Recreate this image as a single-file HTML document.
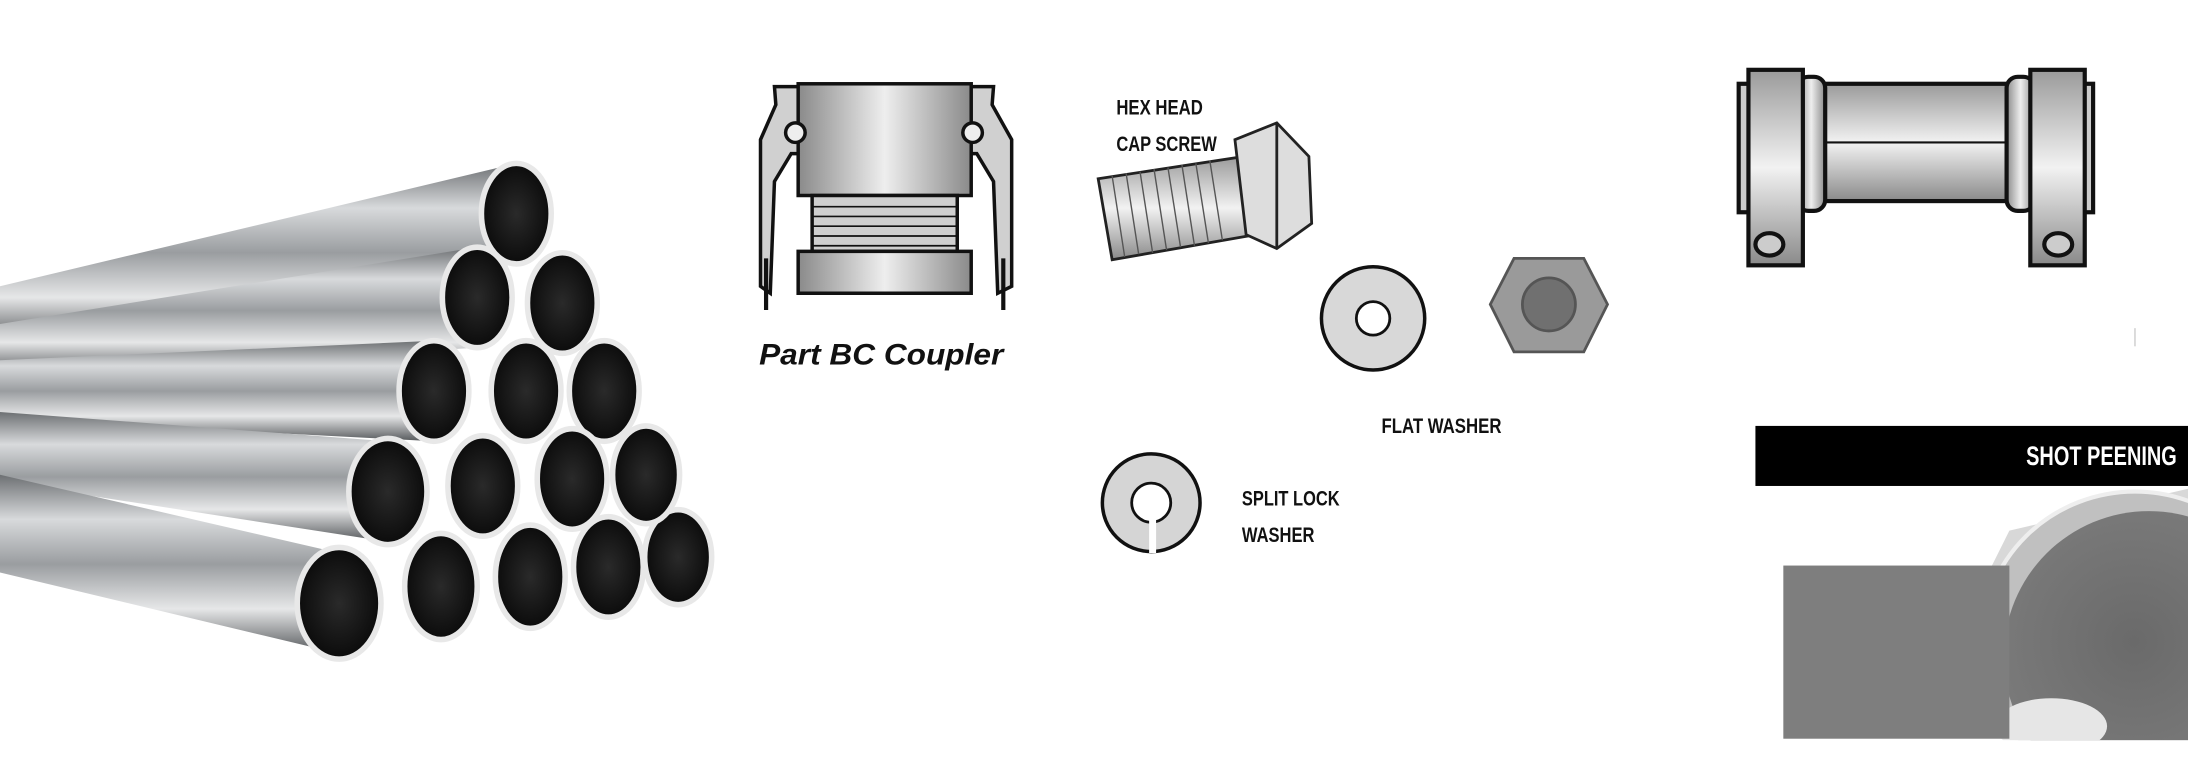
<!DOCTYPE html>
<html><head><meta charset="utf-8"><style>
html,body{margin:0;padding:0;background:#fff;}
svg{display:block;}
.c{font-family:"Liberation Sans",sans-serif;font-weight:bold;}
</style></head><body>
<svg width="2188" height="782" viewBox="0 0 1568 560" preserveAspectRatio="none" xmlns="http://www.w3.org/2000/svg">
<defs>
<linearGradient id="pg" x1="0" y1="0" x2="0" y2="1">
<stop offset="0" stop-color="#6d7073"/><stop offset="0.25" stop-color="#d8dadc"/><stop offset="0.5" stop-color="#9a9da0"/><stop offset="0.75" stop-color="#e6e7e8"/><stop offset="1" stop-color="#55585b"/>
</linearGradient>
<radialGradient id="hole" cx="0.5" cy="0.5" r="0.6"><stop offset="0" stop-color="#2a2a2a"/><stop offset="1" stop-color="#050505"/></radialGradient>
<linearGradient id="mg" x1="0" y1="0" x2="0" y2="1"><stop offset="0" stop-color="#9a9a9a"/><stop offset="0.5" stop-color="#f2f2f2"/><stop offset="1" stop-color="#8a8a8a"/></linearGradient>
<linearGradient id="mh" x1="0" y1="0" x2="1" y2="0"><stop offset="0" stop-color="#8a8a8a"/><stop offset="0.5" stop-color="#eeeeee"/><stop offset="1" stop-color="#8a8a8a"/></linearGradient>
<radialGradient id="pp" cx="0.45" cy="0.45" r="0.7"><stop offset="0" stop-color="#6a6a6a"/><stop offset="0.7" stop-color="#7a7a7a"/><stop offset="1" stop-color="#9a9a9a"/></radialGradient>
<clipPath id="cp"><rect x="1258" y="348" width="310" height="182"/></clipPath>
</defs>

<g>
<polygon points="0,205 370,117 370,189 0,245" fill="url(#pg)"/>
<polygon points="0,232 342,177 342,249 0,268" fill="url(#pg)"/>
<polygon points="0,258 311,244 311,316 0,300" fill="url(#pg)"/>
<polygon points="0,295 278,316 278,388 0,345" fill="url(#pg)"/>
<polygon points="0,340 243,396 243,468 0,410" fill="url(#pg)"/>
</g>
<g stroke="#e8e8e8" stroke-width="4" fill="url(#hole)">
<ellipse cx="370" cy="153" rx="25" ry="36"/>
<ellipse cx="403" cy="217" rx="25" ry="36"/>
<ellipse cx="342" cy="213" rx="25" ry="36"/>
<ellipse cx="433" cy="280" rx="25" ry="36"/>
<ellipse cx="377" cy="280" rx="25" ry="36"/>
<ellipse cx="311" cy="280" rx="25" ry="36"/>
<ellipse cx="486" cy="399" rx="24" ry="34"/>
<ellipse cx="463" cy="340" rx="24" ry="35"/>
<ellipse cx="410" cy="343" rx="25" ry="36"/>
<ellipse cx="346" cy="348" rx="25" ry="36"/>
<ellipse cx="278" cy="352" rx="28" ry="38"/>
<ellipse cx="436" cy="406" rx="25" ry="36"/>
<ellipse cx="380" cy="413" rx="25" ry="37"/>
<ellipse cx="316" cy="420" rx="26" ry="38"/>
<ellipse cx="243" cy="432" rx="30" ry="40"/>
</g>

<g stroke="#111" stroke-width="2.5">
<path d="M556,75 L555,62 L712,62 L711,75 L725,100 L725,205 L715,210 L712,130 L700,110 L567,110 L555,130 L552,210 L545,205 L545,100 Z" fill="#d0d0d0"/>
<rect x="572" y="60" width="124" height="80" fill="url(#mh)"/>
<rect x="582" y="140" width="104" height="40" fill="#cfcfcf"/>
<g stroke-width="1.2" fill="none"><line x1="582" y1="148" x2="686" y2="148"/><line x1="582" y1="155" x2="686" y2="155"/><line x1="582" y1="162" x2="686" y2="162"/><line x1="582" y1="169" x2="686" y2="169"/><line x1="582" y1="176" x2="686" y2="176"/></g>
<rect x="572" y="180" width="124" height="30" fill="url(#mh)"/>
<circle cx="570" cy="95" r="7" fill="#eee"/><circle cx="697" cy="95" r="7" fill="#eee"/>
<line x1="549" y1="185" x2="549" y2="222" stroke-width="3"/><line x1="719" y1="185" x2="719" y2="222" stroke-width="3"/>
</g>
<text x="544" y="261" font-family="Liberation Sans, sans-serif" font-weight="bold" font-style="italic" font-size="21" fill="#111" textLength="175" lengthAdjust="spacingAndGlyphs">Part BC Coupler</text>

<text x="800" y="82" class="c" font-size="15" fill="#111" textLength="62" lengthAdjust="spacingAndGlyphs">HEX HEAD</text>
<text x="800" y="108" class="c" font-size="15" fill="#111" textLength="72" lengthAdjust="spacingAndGlyphs">CAP SCREW</text>
<g stroke="#222" stroke-width="2">
<polygon points="787,128 892,112 900,168 797,186" fill="url(#mg)"/>
<g stroke-width="1" stroke="#555"><line x1="797" y1="126" x2="806" y2="184"/><line x1="807" y1="124" x2="816" y2="182"/><line x1="817" y1="123" x2="826" y2="181"/><line x1="827" y1="121" x2="836" y2="179"/><line x1="837" y1="120" x2="846" y2="177"/><line x1="847" y1="118" x2="856" y2="176"/><line x1="857" y1="117" x2="866" y2="174"/><line x1="867" y1="115" x2="876" y2="172"/></g>
<polygon points="885,100 915,88 938,112 940,160 915,178 893,168" fill="#ddd"/>
<line x1="915" y1="88" x2="915" y2="178"/>
</g>
<circle cx="984" cy="228" r="37" fill="#d8d8d8" stroke="#111" stroke-width="2.5"/>
<circle cx="984" cy="228" r="12" fill="#fff" stroke="#111" stroke-width="2"/>
<polygon points="1085,185 1135,185 1152,218 1135,252 1085,252 1068,218" fill="#9a9a9a" stroke="#555" stroke-width="2"/>
<circle cx="1110" cy="218" r="19" fill="#707070" stroke="#555" stroke-width="2"/>
<text x="990" y="310" class="c" font-size="15" fill="#111" textLength="86" lengthAdjust="spacingAndGlyphs">FLAT WASHER</text>
<circle cx="825" cy="360" r="35" fill="#d5d5d5" stroke="#111" stroke-width="2.5"/>
<circle cx="825" cy="360" r="14" fill="#fff" stroke="#111" stroke-width="2"/>
<line x1="826" y1="372" x2="826" y2="396" stroke="#fff" stroke-width="5"/>
<text x="890" y="362" class="c" font-size="15" fill="#111" textLength="70" lengthAdjust="spacingAndGlyphs">SPLIT LOCK</text>
<text x="890" y="388" class="c" font-size="15" fill="#111" textLength="52" lengthAdjust="spacingAndGlyphs">WASHER</text>

<g stroke="#111" stroke-width="3">
<rect x="1300" y="60" width="146" height="84" fill="url(#mg)"/>
<rect x="1288" y="55" width="20" height="96" rx="8" fill="url(#mh)"/>
<rect x="1438" y="55" width="20" height="96" rx="8" fill="url(#mh)"/>
<rect x="1246" y="60" width="10" height="92" fill="#ccc"/>
<rect x="1490" y="60" width="10" height="92" fill="#ccc"/>
<rect x="1253" y="50" width="39" height="140" fill="url(#mg)"/>
<rect x="1455" y="50" width="39" height="140" fill="url(#mg)"/>
<ellipse cx="1268" cy="175" rx="10" ry="8" fill="#ccc"/>
<ellipse cx="1475" cy="175" rx="10" ry="8" fill="#ccc"/>
<line x1="1308" y1="102" x2="1438" y2="102" stroke-width="1.5"/>
</g>
<line x1="1530" y1="235" x2="1530" y2="248" stroke="#ccc" stroke-width="1"/>

<rect x="1258" y="305" width="310" height="43" fill="#000"/>
<text x="1560" y="333" text-anchor="end" class="c" font-size="19" fill="#fff" textLength="108" lengthAdjust="spacingAndGlyphs">SHOT PEENING</text>
<g clip-path="url(#cp)">
<polygon points="1420,420 1440,380 1568,350 1568,530 1440,530" fill="#d8d8d8"/>
<ellipse cx="1530" cy="460" rx="110" ry="108" fill="#c0c0c0" stroke="#eee" stroke-width="3"/>
<ellipse cx="1540" cy="470" rx="104" ry="104" fill="url(#pp)"/>
<ellipse cx="1470" cy="520" rx="40" ry="20" fill="#e6e6e6"/>
</g>
<rect x="1278" y="405" width="162" height="124" fill="#7e7e7e"/>
</svg>
</body></html>
